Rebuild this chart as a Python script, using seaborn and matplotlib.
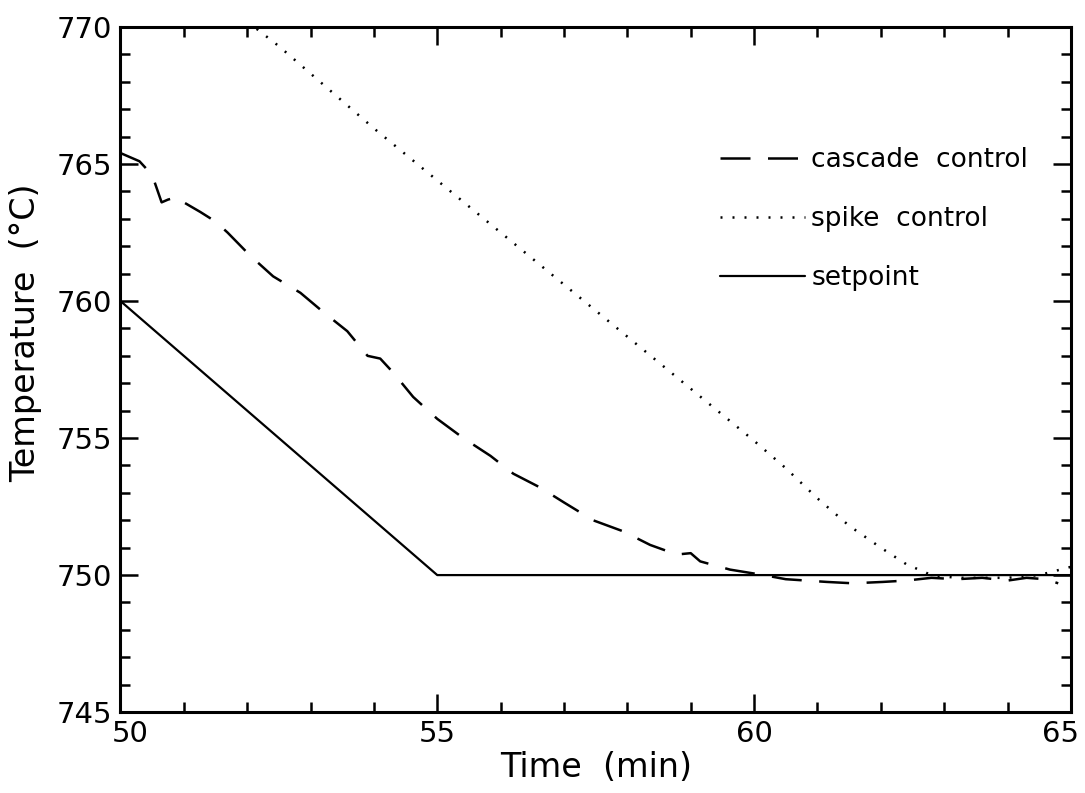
import numpy as np
import pandas as pd
import matplotlib
matplotlib.use("Agg")
import matplotlib.pyplot as plt
import matplotlib.transforms as mtransforms
from matplotlib.ticker import MultipleLocator
import seaborn as sns

# values
setpoint_t = [50.0, 55.0, 65.0]
setpoint_T = [760.0, 750.0, 750.0]

spike_t = [52.0, 52.5, 53.0, 54.0, 55.0, 56.0, 57.0, 58.0, 59.0, 60.0, 60.5,
           61.0, 61.5, 62.0, 62.4, 62.8, 63.2, 63.6, 64.0, 64.5, 65.0]
spike_T = [770.2, 769.3, 768.3, 766.3, 764.4, 762.5, 760.6, 758.7, 756.8, 754.9, 753.9,
           752.8, 751.8, 751.0, 750.4, 750.0, 749.9, 749.9, 749.9, 750.0, 750.3]

cascade_t = [50.0, 50.3, 50.5, 50.65, 50.75, 50.9, 51.0, 51.26, 51.5, 51.69, 52.05,
             52.41, 52.84, 53.2, 53.58, 53.9, 54.1, 54.3, 54.62, 55.0, 55.41,
             55.84, 56.2, 56.62, 57.0, 57.46, 57.93, 58.36, 58.78, 59.0, 59.15,
             59.62, 60.15, 60.5, 61.15, 61.56, 62.03, 62.4, 62.8, 63.2, 63.6,
             64.0, 64.3, 64.6, 64.8]
cascade_T = [765.4, 765.1, 764.6, 763.6, 763.7, 763.8, 763.6, 763.25, 762.9, 762.5, 761.65,
             760.9, 760.3, 759.6, 758.9, 758.0, 757.9, 757.4, 756.5, 755.7, 755.0,
             754.35, 753.7, 753.2, 752.65, 752.0, 751.6, 751.1, 750.75, 750.8, 750.5,
             750.2, 750.0, 749.85, 749.75, 749.7, 749.75, 749.8, 749.9, 749.85, 749.9,
             749.8, 749.9, 749.85, 749.7]

sns.set_theme(style="ticks")
plt.rcParams['font.family'] = ['DejaVu Sans']
plt.rcParams['text.color'] = 'black'
plt.rcParams['axes.labelcolor'] = 'black'

fig = plt.figure(figsize=(10.85, 7.93), dpi=100)
ax = fig.add_axes([0.111, 0.102, 0.876, 0.864])

sns.lineplot(x=cascade_t, y=cascade_T, ax=ax, color="black", lw=1.8,
             linestyle=(0, (12, 7)), label="cascade  control", sort=False)
sns.lineplot(x=spike_t, y=spike_T, ax=ax, color="black", lw=1.8,
             linestyle=(0, (0.8, 4)), label="spike  control", sort=False)
sns.lineplot(x=setpoint_t, y=setpoint_T, ax=ax, color="black", lw=1.6,
             label="setpoint", sort=False)

ax.set_xlim(50, 65)
ax.set_ylim(745, 770)
ax.xaxis.set_major_locator(MultipleLocator(5))
ax.xaxis.set_minor_locator(MultipleLocator(1))
ax.yaxis.set_major_locator(MultipleLocator(5))
ax.yaxis.set_minor_locator(MultipleLocator(1))
ax.tick_params(which="both", direction="in", top=True, right=True, width=1.8,
               labelsize=21, colors="black")
ax.tick_params(which="major", length=13, pad=6)
ax.tick_params(which="minor", length=7)
for s in ax.spines.values():
    s.set_linewidth(2.2)
    s.set_color("black")

ax.set_xlabel("Time  (min)", fontsize=24, labelpad=2)
ax.set_ylabel("Temperature  (°C)", fontsize=24)
ax.yaxis.set_label_coords(-0.082, 0.553)

# nudge the end x tick labels inward as in the reference
fig.canvas.draw()
xlabels = ax.get_xticklabels()
shift = {"50": 10, "65": -10}
for lab in xlabels:
    dx = shift.get(lab.get_text())
    if dx:
        lab.set_transform(lab.get_transform() +
                          mtransforms.ScaledTranslation(dx / 100, 0, fig.dpi_scale_trans))

leg = ax.legend(loc="upper left", bbox_to_anchor=(0.631, 0.825), frameon=False,
                fontsize=19, handlelength=3.2, handletextpad=0.26, labelspacing=1.25,
                borderpad=0, borderaxespad=0)

fig.savefig("out.png", dpi=100, facecolor="white")
